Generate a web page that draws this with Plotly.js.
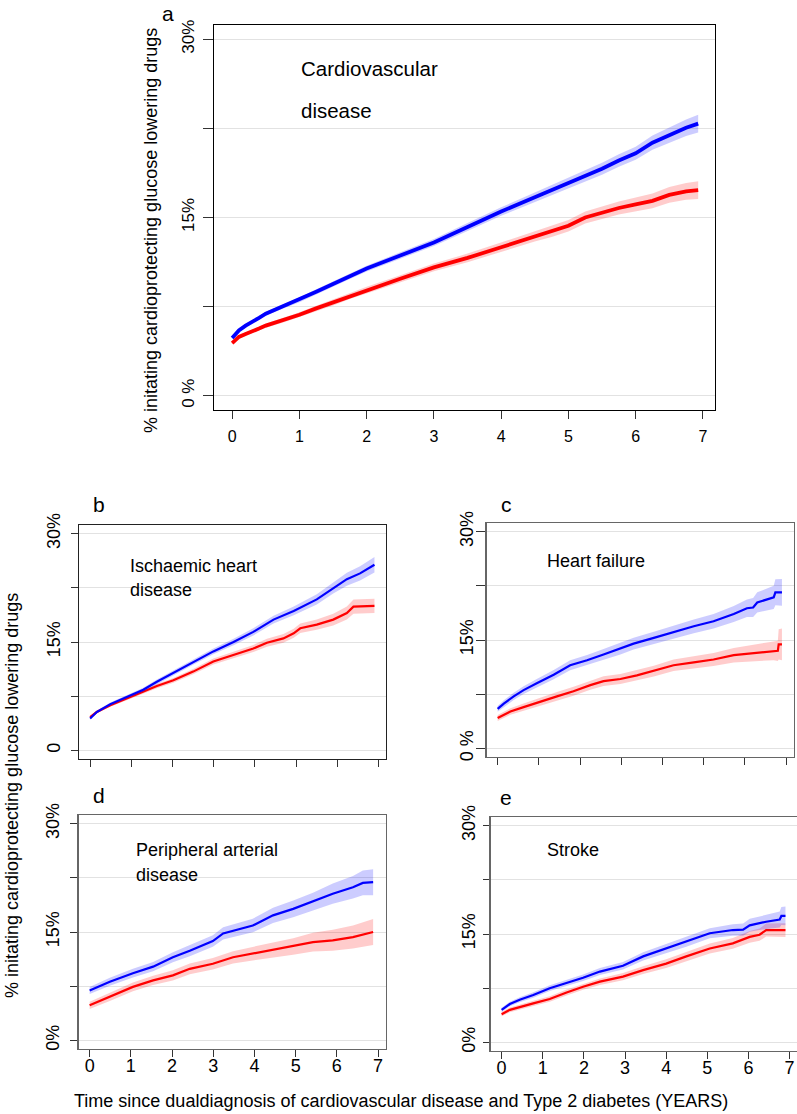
<!DOCTYPE html>
<html><head><meta charset="utf-8">
<script src="https://cdn.plot.ly/plotly-3.0.1.min.js"></script>
<style>html,body{margin:0;padding:0;background:#fff}#chart{width:797px;height:1114px}</style>
</head><body><div id="chart"></div>
<script>
// ---------- Data (years since dual diagnosis, % initiating) ----------
// Panel a: Cardiovascular disease
const aT = [0,0.05,0.1,0.2,0.27,0.4,0.5,0.75,1,1.25,1.5,1.75,2,2.5,3,3.5,4,4.5,4.75,5,5.25,5.5,5.75,6,6.25,6.5,6.75,6.93];
const aBlue = [4.85,5.2,5.5,5.9,6.11,6.55,6.9,7.5,8.07,8.75,9.4,10.05,10.7,11.8,12.9,14.2,15.5,16.7,17.3,17.9,18.5,19.1,19.8,20.4,21.3,21.95,22.55,22.9];
const aBlueCI = [0.1,0.12,0.13,0.15,0.15,0.16,0.17,0.18,0.2,0.21,0.22,0.23,0.24,0.27,0.3,0.33,0.36,0.4,0.42,0.45,0.48,0.5,0.52,0.55,0.6,0.65,0.7,0.75];
const aRed = [4.43,4.7,4.95,5.2,5.33,5.65,5.9,6.35,6.81,7.35,7.85,8.4,8.9,9.85,10.8,11.6,12.5,13.4,13.8,14.3,15.0,15.4,15.8,16.1,16.4,16.9,17.2,17.3];
const aRedCI = [0.1,0.12,0.13,0.15,0.15,0.17,0.18,0.2,0.22,0.23,0.25,0.26,0.28,0.3,0.33,0.36,0.4,0.43,0.45,0.48,0.5,0.52,0.55,0.58,0.62,0.66,0.7,0.75];

// Panel b: Ischaemic heart disease
const bBlueT = [0,0.16,0.49,0.89,1.29,1.62,2.02,2.5,2.99,3.48,3.96,4.45,4.94,5.5,5.9,6.23,6.55,6.9];
const bBlue = [4.4,5.3,6.4,7.4,8.4,9.5,10.7,12.2,13.7,15.0,16.4,18.1,19.3,20.9,22.5,23.7,24.5,25.7];
const bBlueCI = [0.15,0.2,0.22,0.25,0.28,0.3,0.33,0.36,0.4,0.45,0.5,0.55,0.6,0.7,0.8,0.9,1.0,1.07];
const bRedT = [0,0.16,0.49,0.89,1.29,1.62,2.02,2.5,2.99,3.48,3.96,4.29,4.69,4.94,5.1,5.5,5.9,6.23,6.39,6.9];
const bRed = [4.6,5.3,6.25,7.2,8.1,8.9,9.7,10.9,12.3,13.2,14.1,14.9,15.5,16.2,16.9,17.4,18.1,19.0,19.9,20.0];
const bRedCI = [0.15,0.2,0.22,0.25,0.28,0.3,0.33,0.36,0.4,0.45,0.5,0.55,0.6,0.62,0.65,0.7,0.8,0.9,1.0,1.0];

// Panel c: Heart failure
const cBlueT = [0,0.15,0.39,0.63,0.95,1.36,1.76,2.17,2.57,2.98,3.3,3.79,4.27,4.76,5.24,5.73,6.05,6.2,6.3,6.54,6.7,6.74,6.9];
const cBlue = [5.46,6.2,7.2,8.06,9.0,10.2,11.5,12.2,13.0,13.8,14.5,15.3,16.1,16.9,17.6,18.6,19.4,19.5,20.2,20.6,20.9,21.6,21.6];
const cBlueCI = [0.4,0.45,0.5,0.55,0.6,0.65,0.7,0.72,0.75,0.8,0.82,0.85,0.9,0.95,1.0,1.1,1.2,1.3,1.4,1.5,1.6,1.8,1.85];
const cRedT = [0,0.31,0.63,1.04,1.44,1.84,2.25,2.57,2.98,3.38,3.79,4.27,4.76,5.24,5.73,6.21,6.7,6.8,6.82,6.9];
const cRed = [4.2,5.1,5.7,6.5,7.2,7.9,8.75,9.3,9.6,10.1,10.7,11.5,11.9,12.3,12.9,13.2,13.5,13.5,14.4,14.4];
const cRedCI = [0.4,0.45,0.5,0.55,0.6,0.62,0.65,0.68,0.7,0.72,0.75,0.8,0.85,0.9,1.0,1.1,1.3,1.4,2.1,2.2];

// Panel d: Peripheral arterial disease
const dBlueT = [0,0.49,1.05,1.54,2.02,2.43,2.99,3.24,3.96,4.45,4.94,5.42,5.9,6.39,6.63,6.88];
const dBlue = [6.9,8.1,9.3,10.2,11.5,12.4,13.75,14.8,15.9,17.3,18.2,19.2,20.3,21.2,21.8,21.9];
const dBlueCI = [0.5,0.55,0.6,0.65,0.7,0.75,0.8,0.85,0.95,1.05,1.15,1.25,1.4,1.55,1.7,1.8];
const dRedT = [0,0.49,1.05,1.54,2.02,2.43,2.99,3.48,3.96,4.45,4.94,5.42,5.9,6.39,6.88];
const dRed = [4.85,6.0,7.4,8.3,9.0,9.9,10.6,11.5,12.0,12.55,13.0,13.6,13.85,14.3,15.0];
const dRedCI = [0.5,0.55,0.6,0.65,0.7,0.75,0.8,0.85,0.95,1.05,1.15,1.3,1.45,1.6,1.8];

// Panel e: Stroke
const eBlueT = [0,0.2,0.44,0.77,1.17,1.58,1.98,2.39,2.95,3.44,4.0,4.49,5.06,5.62,5.87,6.03,6.43,6.76,6.8,6.9];
const eBlue = [4.5,5.3,5.9,6.55,7.5,8.2,8.95,9.8,10.6,11.9,13.0,13.9,15.1,15.55,15.6,16.2,16.7,17.0,17.5,17.5];
const eBlueCI = [0.3,0.32,0.35,0.38,0.4,0.42,0.45,0.48,0.52,0.56,0.6,0.65,0.7,0.8,0.85,0.9,1.0,1.1,1.25,1.3];
const eRedT = [0,0.2,0.77,1.17,1.58,1.98,2.39,2.95,3.44,4.0,4.49,5.06,5.62,6.03,6.27,6.43,6.9];
const eRed = [3.9,4.5,5.4,6.0,6.9,7.7,8.4,9.1,10.0,10.9,11.9,13.0,13.7,14.6,14.9,15.55,15.55];
const eRedCI = [0.3,0.32,0.36,0.38,0.4,0.42,0.45,0.5,0.55,0.6,0.65,0.7,0.75,0.8,0.85,0.9,0.95];

// Tick labels
const xTickVals = [0,1,2,3,4,5,6,7];
const yTickVals = [0,7.5,15,22.5,30];
const yTickTextA = ["0 %","","15%","","30%"];
const yTickTextB = ["0","","15%","","30%"];
const yTickTextC = ["0 %","","15%","","30%"];
const yTickTextD = ["0%","","15%","","30%"];
const yTickTextE = ["0%","","15%","","30%"];

// ---------- Build ----------
const W = 797, H = 1114;
const FONT = "Liberation Sans, Arial, sans-serif";
const px = x => x / W, py = y => 1 - y / H;

const traces = [];
function addSeries(t, v, ci, xa, ya, color, band, lw) {
  const up = v.map((d, i) => d + ci[i]);
  const lo = v.map((d, i) => d - ci[i]);
  traces.push({x: t.concat(t.slice().reverse()), y: up.concat(lo.slice().reverse()),
    xaxis: xa, yaxis: ya, type: 'scatter', mode: 'lines', fill: 'toself',
    fillcolor: band, line: {width: 0, color: band}, hoverinfo: 'skip', showlegend: false});
  traces.push({x: t, y: v, xaxis: xa, yaxis: ya, type: 'scatter', mode: 'lines',
    line: {color: color, width: lw}, showlegend: false});
}
const BLUE = '#0000ff', RED = '#ff0000';
const BBAND = 'rgba(0,0,255,0.2)', RBAND = 'rgba(255,0,0,0.2)';

addSeries(aT, aRed, aRedCI, 'x', 'y', RED, RBAND, 3.8);
addSeries(aT, aBlue, aBlueCI, 'x', 'y', BLUE, BBAND, 3.8);
addSeries(bRedT, bRed, bRedCI, 'x2', 'y2', RED, RBAND, 2.2);
addSeries(bBlueT, bBlue, bBlueCI, 'x2', 'y2', BLUE, BBAND, 2.2);
addSeries(cRedT, cRed, cRedCI, 'x3', 'y3', RED, RBAND, 2.2);
addSeries(cBlueT, cBlue, cBlueCI, 'x3', 'y3', BLUE, BBAND, 2.2);
addSeries(dRedT, dRed, dRedCI, 'x4', 'y4', RED, RBAND, 2.2);
addSeries(dBlueT, dBlue, dBlueCI, 'x4', 'y4', BLUE, BBAND, 2.2);
addSeries(eRedT, eRed, eRedCI, 'x5', 'y5', RED, RBAND, 2.2);
addSeries(eBlueT, eBlue, eBlueCI, 'x5', 'y5', BLUE, BBAND, 2.2);

function xax(dom, anchor, showLabels, size, lineColor, tlen, standoff) {
  return {domain: dom, anchor: anchor, range: [-0.27, 7.18], tickvals: xTickVals,
    ticktext: xTickVals.map(String), showticklabels: showLabels, ticks: 'outside',
    ticklen: tlen, tickwidth: 1, tickcolor: '#333', showgrid: false, zeroline: false,
    showline: true, mirror: true, linecolor: lineColor, linewidth: 1.3,
    tickfont: {family: FONT, size: size, color: '#000'}, ticklabelstandoff: standoff};
}
function yax(dom, anchor, text, size, lineColor, tlen, standoff) {
  return {domain: dom, anchor: anchor, range: [-1.2, 31.2], tickvals: yTickVals,
    ticktext: text, tickangle: -90, ticks: 'outside', ticklen: tlen, tickwidth: 1, tickcolor: '#333',
    showgrid: true, gridcolor: '#e2e2e2', gridwidth: 1, zeroline: false,
    showline: true, mirror: true, linecolor: lineColor, linewidth: 1.3,
    tickfont: {family: FONT, size: size, color: '#000'}, ticklabelstandoff: standoff};
}

const ann = [];
function txt(x, y, s, size, xanchor, angle) {
  ann.push({x: px(x), y: py(y), xref: 'paper', yref: 'paper', text: s, showarrow: false,
    xanchor: xanchor || 'left', yanchor: 'middle', textangle: angle || 0,
    font: {family: FONT, size: size, color: '#000'}});
}
// panel letters
txt(168, 13, 'a', 21, 'center'); txt(99, 505, 'b', 21, 'center'); txt(506, 505, 'c', 21, 'center');
txt(99, 795, 'd', 21, 'center'); txt(506, 797, 'e', 21, 'center');
// panel titles
txt(299, 68, 'Cardiovascular', 20.5); txt(299, 110, 'disease', 20.5);
txt(128, 566, 'Ischaemic heart', 18); txt(128, 590, 'disease', 18);
txt(545, 561, 'Heart failure', 18);
txt(134, 850, 'Peripheral arterial', 18); txt(134, 875, 'disease', 18);
txt(545, 850, 'Stroke', 18);
// axis titles
txt(151, 231, '% initating cardioprotecting glucose lowering drugs', 18, 'center', -90);
txt(12, 796, '% initating cardioprotecting glucose lowering drugs', 18, 'center', -90);
txt(401, 1101, 'Time since dualdiagnosis of cardiovascular disease and Type 2 diabetes (YEARS)', 18, 'center');

const layout = {
  width: W, height: H, margin: {l: 0, r: 0, t: 0, b: 0},
  paper_bgcolor: '#fff', plot_bgcolor: '#fff', showlegend: false,
  font: {family: FONT, color: '#000'},
  xaxis: xax([px(214), px(715)], 'y', true, 16, '#000', 8, 3),
  yaxis: yax([py(410), py(25)], 'x', yTickTextA, 17, '#000', 10, 2),
  xaxis2: xax([px(79), px(386)], 'y2', false, 18, '#222', 7, 0),
  yaxis2: yax([py(759), py(525)], 'x2', yTickTextB, 18, '#222', 7, 4),
  xaxis3: xax([px(486.5), px(793.5)], 'y3', false, 18, '#666', 7, 0),
  yaxis3: yax([py(757), py(523)], 'x3', yTickTextC, 18, '#666', 9, -4),
  xaxis4: xax([px(78.5), px(385.5)], 'y4', true, 18, '#666', 7, -7),
  yaxis4: yax([py(1049), py(815)], 'x4', yTickTextD, 18, '#666', 7, 4),
  xaxis5: xax([px(490.5), 1], 'y5', true, 18, '#666', 7, -7),
  yaxis5: yax([py(1051), py(817)], 'x5', yTickTextE, 18, '#666', 6, 1),
  annotations: ann
};
Plotly.newPlot('chart', traces, layout, {staticPlot: true, displayModeBar: false});
</script></body></html>
